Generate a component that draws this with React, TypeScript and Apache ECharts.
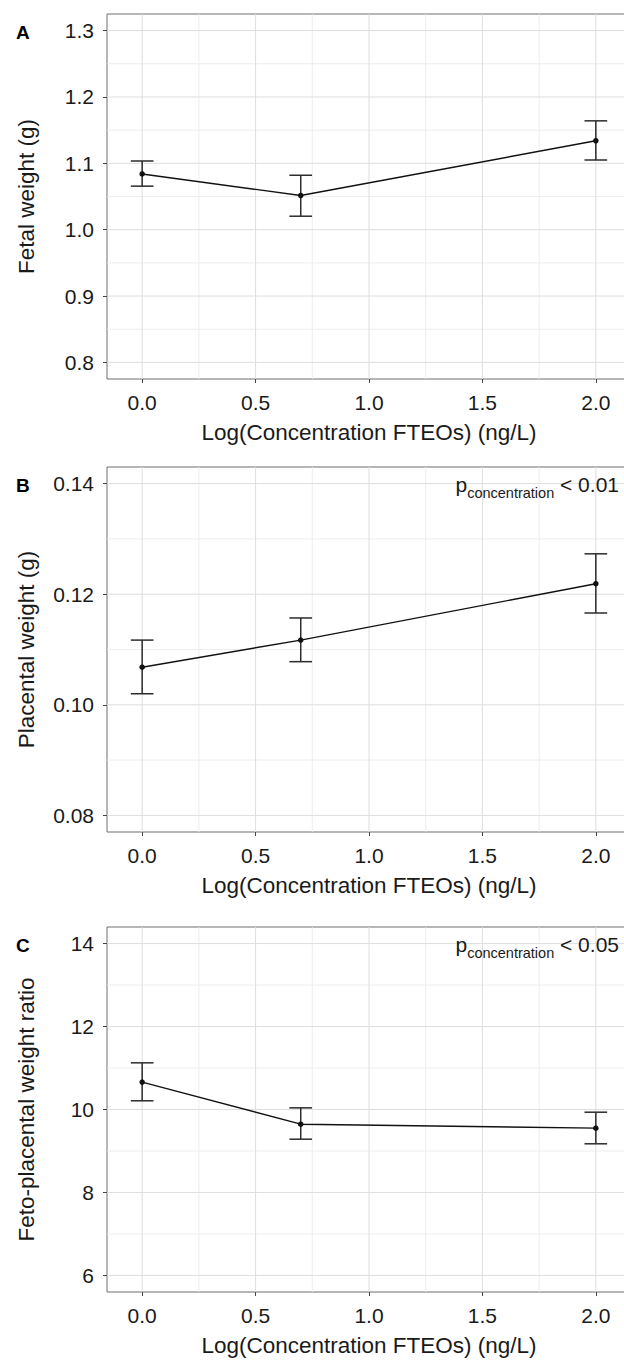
import React, { useEffect, useRef } from "react";
import * as echarts from "echarts";

// ---- data ----
const concentrationLog = [0, 0.699, 2];

const fetalMean = [1.084, 1.0515, 1.134];
const fetalLow = [1.0656, 1.0203, 1.105];
const fetalHigh = [1.1035, 1.082, 1.164];

const placentalMean = [0.1068, 0.1117, 0.1219];
const placentalLow = [0.102, 0.1078, 0.1166];
const placentalHigh = [0.1117, 0.1157, 0.1273];

const ratioMean = [10.66, 9.646, 9.55];
const ratioLow = [10.21, 9.284, 9.173];
const ratioHigh = [11.125, 10.04, 9.935];

const xTicks = [0, 0.5, 1, 1.5, 2];
const xMinorTicks = [0.25, 0.75, 1.25, 1.75];
const fetalTicks = [0.8, 0.9, 1.0, 1.1, 1.2, 1.3];
const fetalMinorTicks = [0.85, 0.95, 1.05, 1.15, 1.25];
const placentalTicks = [0.08, 0.1, 0.12, 0.14];
const placentalMinorTicks = [0.09, 0.11, 0.13];
const ratioTicks = [6, 8, 10, 12, 14];
const ratioMinorTicks = [7, 9, 11, 13];

const X_MIN = -0.155;
const X_MAX = 2.155;
const xTitle = "Log(Concentration FTEOs) (ng/L)";

const FONT = "'Liberation Sans', Arial, Helvetica, sans-serif";
const TEXT = "#1a1a1a";

const panels = [
  {
    letter: "A",
    top: 14,
    yMin: 0.775,
    yMax: 1.325,
    ticks: fetalTicks,
    minor: fetalMinorTicks,
    decimals: 1,
    title: "Fetal weight (g)",
    mean: fetalMean,
    low: fetalLow,
    high: fetalHigh,
    pText: null as string | null,
  },
  {
    letter: "B",
    top: 467,
    yMin: 0.077,
    yMax: 0.143,
    ticks: placentalTicks,
    minor: placentalMinorTicks,
    decimals: 2,
    title: "Placental weight (g)",
    mean: placentalMean,
    low: placentalLow,
    high: placentalHigh,
    pText: " < 0.01",
  },
  {
    letter: "C",
    top: 927,
    yMin: 5.6,
    yMax: 14.4,
    ticks: ratioTicks,
    minor: ratioMinorTicks,
    decimals: 0,
    title: "Feto-placental weight ratio",
    mean: ratioMean,
    low: ratioLow,
    high: ratioHigh,
    pText: " < 0.05",
  },
];

const PLOT_H = 365;

function buildOption() {
  const grid: any[] = [];
  const xAxis: any[] = [];
  const yAxis: any[] = [];
  const series: any[] = [];
  const graphic: any[] = [];

  panels.forEach((p, i) => {
    grid.push({
      left: 107,
      top: p.top,
      width: 524,
      height: PLOT_H,
      outerBoundsMode: "none",
      containLabel: false,
      show: true,
      backgroundColor: "#ffffff",
      borderColor: "#6e6e6e",
      borderWidth: 1,
    });
    xAxis.push({
      type: "value",
      gridIndex: i,
      min: X_MIN,
      max: X_MAX,
      splitLine: { show: false },
      axisLine: { show: false, onZero: false },
      axisTick: {
        show: true,
        length: 4,
        customValues: xTicks,
        lineStyle: { color: "#444", width: 1 },
      },
      axisLabel: {
        customValues: xTicks,
        formatter: (v: number) => v.toFixed(1),
        fontSize: 21,
        color: TEXT,
        fontFamily: FONT,
        margin: 13,
      },
      name: xTitle,
      nameLocation: "middle",
      nameGap: 42,
      nameTextStyle: { fontSize: 22.5, color: TEXT, fontFamily: FONT },
    });
    yAxis.push({
      type: "value",
      gridIndex: i,
      min: p.yMin,
      max: p.yMax,
      splitLine: { show: false },
      axisLine: { show: false, onZero: false },
      axisTick: {
        show: true,
        length: 4,
        customValues: p.ticks,
        lineStyle: { color: "#444", width: 1 },
      },
      axisLabel: {
        customValues: p.ticks,
        formatter: (v: number) => v.toFixed(p.decimals),
        fontSize: 21,
        color: TEXT,
        fontFamily: FONT,
        margin: 13,
      },
      name: p.title,
      nameLocation: "middle",
      nameGap: 69,
      nameTextStyle: { fontSize: 22.5, color: TEXT, fontFamily: FONT },
    });

    // grid lines: kind 0 = vertical major, 1 = vertical minor, 2 = horizontal major, 3 = horizontal minor
    const gridData: number[][] = [];
    xMinorTicks.forEach((v) => gridData.push([v, 1]));
    p.minor.forEach((v) => gridData.push([v, 3]));
    xTicks.forEach((v) => gridData.push([v, 0]));
    p.ticks.forEach((v) => gridData.push([v, 2]));
    series.push({
      type: "custom",
      xAxisIndex: i,
      yAxisIndex: i,
      silent: true,
      z: 1,
      data: gridData,
      renderItem: (_params: any, api: any) => {
        const v = api.value(0);
        const kind = api.value(1);
        let a: number[];
        let b: number[];
        if (kind < 2) {
          a = api.coord([v, p.yMin]);
          b = api.coord([v, p.yMax]);
        } else {
          a = api.coord([X_MIN, v]);
          b = api.coord([X_MAX, v]);
        }
        const major = kind % 2 === 0;
        return {
          type: "line",
          shape: { x1: a[0], y1: a[1], x2: b[0], y2: b[1] },
          style: { stroke: major ? "#dedede" : "#ebebeb", lineWidth: major ? 1 : 0.9 },
        };
      },
    });

    // error bars
    series.push({
      type: "custom",
      xAxisIndex: i,
      yAxisIndex: i,
      silent: true,
      z: 3,
      data: concentrationLog.map((x, j) => [x, p.low[j], p.high[j]]),
      encode: { x: 0, y: [1, 2] },
      renderItem: (_params: any, api: any) => {
        const x = api.value(0);
        const lo = api.coord([x, api.value(1)]);
        const hi = api.coord([x, api.value(2)]);
        const half = api.size([0.05, 0])[0];
        const style = { stroke: "#2b2b2b", lineWidth: 1.5 };
        return {
          type: "group",
          children: [
            { type: "line", shape: { x1: lo[0], y1: lo[1], x2: hi[0], y2: hi[1] }, style },
            { type: "line", shape: { x1: lo[0] - half, y1: lo[1], x2: lo[0] + half, y2: lo[1] }, style },
            { type: "line", shape: { x1: hi[0] - half, y1: hi[1], x2: hi[0] + half, y2: hi[1] }, style },
          ],
        };
      },
    });

    // mean line
    series.push({
      type: "line",
      xAxisIndex: i,
      yAxisIndex: i,
      z: 5,
      silent: true,
      data: concentrationLog.map((x, j) => [x, p.mean[j]]),
      symbol: "circle",
      symbolSize: 5.5,
      showSymbol: true,
      lineStyle: { color: "#111", width: 1.4 },
      itemStyle: { color: "#111" },
    });

    graphic.push({
      type: "text",
      z: 100,
      x: 16,
      y: p.top + 18,
      style: {
        text: p.letter,
        fontSize: 19,
        fontWeight: "bold",
        fontFamily: FONT,
        fill: "#000",
        align: "left",
        verticalAlign: "middle",
      },
    });

    if (p.pText) {
      graphic.push({
        type: "text",
        z: 100,
        x: 619,
        y: p.top + 20,
        style: {
          text: "{p|p}{s|concentration}{t|" + p.pText + "}",
          align: "right",
          verticalAlign: "middle",
          fontFamily: FONT,
          rich: {
            p: { fontSize: 21, lineHeight: 26, verticalAlign: "top", fill: TEXT, fontFamily: FONT },
            s: { fontSize: 14.5, lineHeight: 14, verticalAlign: "bottom", fill: TEXT, fontFamily: FONT },
            t: { fontSize: 21, lineHeight: 26, verticalAlign: "top", fill: TEXT, fontFamily: FONT },
          },
        },
      });
    }
  });

  return {
    animation: false,
    backgroundColor: "#ffffff",
    grid,
    xAxis,
    yAxis,
    series,
    graphic,
  };
}

export default function App() {
  const ref = useRef<HTMLDivElement>(null);
  useEffect(() => {
    if (!ref.current) return;
    const chart = echarts.init(ref.current, null, { renderer: "svg" });
    chart.setOption(buildOption() as any);
    return () => chart.dispose();
  }, []);
  return (
    <div
      ref={ref}
      style={{ position: "absolute", left: 0, top: 0, width: 624, height: 1360, overflow: "hidden" }}
    />
  );
}
